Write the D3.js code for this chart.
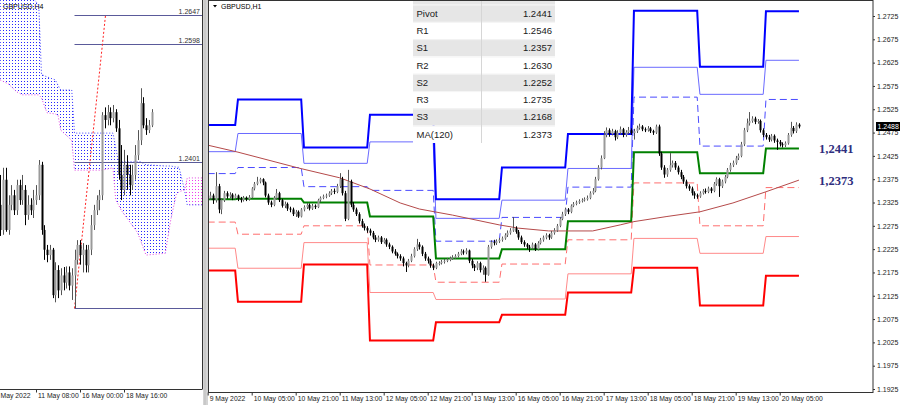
<!DOCTYPE html>
<html><head><meta charset="utf-8">
<script src="https://cdn.jsdelivr.net/npm/d3@7/dist/d3.min.js"></script>
<style>
html,body{margin:0;padding:0;background:#fff;}
svg{display:block;font-family:"Liberation Sans",Arial,sans-serif;}
</style></head><body>
<svg id="chart" width="900" height="405"></svg>
<script>
// ===== DATA (prices stored as offsets in units of 0.0001 above 1.2000) =====
// GBPUSD H1 candles, bar 0 = 9 May 13:00
const h1Open = [
332,335,340,330,360,310,330,345,338,342, 335,340,333,330,335,332,336,355,365,370,
375,368,340,325,320,335,345,330,318,322, 312,310,300,305,295,310,315,320,312,318,
315,330,335,338,340,345,350,348,360,375, 345,290,370,320,310,300,285,275,270,265,
260,250,245,250,240,245,235,230,220,215, 210,205,195,190,200,210,225,235,230,215,
205,200,190,185,195,195,198,200,202,205, 207,210,215,220,218,222,200,190,185,195,
180,185,170,230,240,238,242,245,248,255, 260,265,270,262,250,240,235,230,228,235,
225,238,245,250,255,250,260,265,275,290, 300,310,305,318,322,325,328,330,332,335,
345,350,375,400,420,470,480,472,478,465, 475,482,470,476,480,474,478,485,488,482,
480,484,478,475,488,430,400,385,395,405, 410,400,390,380,370,360,355,345,340,338,
345,350,348,355,350,365,375,360,370,380, 395,405,410,420,425,450,480,495,500,505,
498,500,480,470,465,460,468,458,455,450, 448,452,470,485,478,492];
const h1Close = [
335,340,330,360,310,330,345,338,342,335, 340,333,330,335,332,336,355,365,370,375,
368,340,325,320,335,345,330,318,322,312, 310,300,305,295,310,315,320,312,318,315,
330,335,338,340,345,350,348,360,375,345, 290,370,320,310,300,285,275,270,265,260,
250,245,250,240,245,235,230,220,215,210, 205,195,190,200,210,225,235,230,215,205,
200,190,185,195,195,198,200,202,205,207, 210,215,220,218,222,200,190,185,195,180,
185,170,230,240,238,242,245,248,255,260, 265,270,262,250,240,235,230,228,235,225,
238,245,250,255,250,260,265,275,290,300, 310,305,318,322,325,328,330,332,335,345,
350,375,400,420,470,480,472,478,465,475, 482,470,476,480,474,478,485,488,482,480,
484,478,475,488,430,400,385,395,405,410, 400,390,380,370,360,355,345,340,338,345,
350,348,355,350,365,375,360,370,380,395, 405,410,420,425,450,480,495,500,505,498,
500,480,470,465,460,468,458,455,450,448, 452,470,485,478,492,488];
const h1High = [
342,348,344,390,365,334,350,349,347,345, 344,342,337,339,338,341,358,369,380,378,
377,370,344,329,339,354,348,333,327,325, 316,314,309,308,313,319,324,323,322,321,
333,338,342,344,349,354,355,365,388,380, 350,395,374,326,314,304,290,280,274,269,
264,255,254,253,249,248,239,233,225,218, 214,209,198,204,215,229,247,240,233,219,
209,204,194,198,199,202,204,206,209,212, 214,219,225,224,227,224,204,193,199,198,
190,188,234,244,245,246,249,252,259,265, 270,294,274,266,254,244,238,234,239,238,
242,249,254,259,258,264,270,279,294,305, 314,313,321,326,329,332,334,336,340,349,
356,380,405,426,478,486,484,483,481,480, 488,485,480,487,484,483,490,494,491,486,
489,487,481,492,492,434,405,399,431,415, 414,404,395,384,374,364,359,349,344,349,
354,355,359,358,369,379,378,374,384,399, 410,415,425,430,455,485,505,519,510,509,
504,503,484,474,470,472,471,462,459,454, 456,474,498,489,497,495];
const h1Low = [
326,331,322,325,302,300,326,333,334,330, 331,328,325,327,328,329,334,351,362,366,
362,336,320,315,317,331,326,314,313,307, 304,296,294,292,293,306,311,308,309,311,
313,326,332,334,337,341,343,345,356,340, 285,287,315,305,296,280,271,265,260,254,
246,240,241,236,237,230,225,216,211,205, 200,188,176,186,197,207,221,224,210,200,
194,185,180,182,190,192,194,197,199,202, 204,207,212,213,214,195,184,178,180,175,
170,155,168,226,233,234,238,241,245,251, 256,262,258,245,236,230,225,219,224,221,
222,235,241,246,245,247,256,262,272,287, 296,300,302,315,319,322,325,327,329,332,
342,347,372,396,418,465,466,469,458,461, 471,465,466,472,470,460,474,481,478,476,
477,474,470,472,425,395,378,380,391,400, 395,385,375,365,355,350,340,333,333,335,
342,344,345,345,347,361,337,356,366,377, 391,401,406,416,422,446,476,490,496,493,
494,475,465,460,455,456,453,438,445,443, 444,449,466,473,474,484];

// Daily pivot levels
const days     = ["9 May","10 May","11 May","12 May","13 May","16 May","17 May","18 May","19 May","20 May"];
const dayStart = [0, 11, 35, 59, 83, 107, 131, 155, 179, 203];
const lastBar  = 215;
const lvR3 = [491,546,443,513,332,400,472,736,616,735];
const lvR2 = [434,473,409,455,291,330,398,615,557,630];
const lvR1 = [387,400,359,351,242,293,358,551,446,546];
const lvP  = [332,333,325,295,205,225,285,433,388,441];
const lvS1 = [283,257,275,191,154,193,245,367,275,357];
const lvS2 = [227,184,239,132,117,118,172,248,216,252];
const lvS3 = [179,112,192, 29, 68, 84,132,185,104,168];

// MA(120) sampled along the H1 bars
const maIdx = [0,11,33,48,59,70,77,89,106,113,124,140,150,155,167,179,191,203,215];
const maVal = [448,433,399,378,354,324,311,298,277,270,264,264,277,284,295,305,324,348,373];

// Table
const tblLabels = ["Pivot","R1","S1","R2","S2","R3","S3","MA(120)"];
const tblValues = ["1.2441","1.2546","1.2357","1.2630","1.2252","1.2735","1.2168","1.2373"];

// Axis labels
const mainTickIdx = [0,16,32,48,64,80,96,112,128,144,160,176,192,208];
const mainTickLab = ["9 May 2022","10 May 05:00","10 May 21:00","11 May 13:00","12 May 05:00","12 May 21:00",
  "13 May 13:00","16 May 05:00","16 May 21:00","17 May 13:00","18 May 05:00","18 May 21:00","19 May 13:00","20 May 05:00"];
const yTickVals = [1.2725,1.2675,1.2625,1.2575,1.2525,1.2475,1.2425,1.2375,1.2325,1.2275,1.2225,1.2175,1.2125,1.2075,1.2025,1.1975,1.1925];
const yTickLab  = ["1.2725","1.2675","1.2625","1.2575","1.2525","1.2475","1.2425","1.2375","1.2325","1.2275","1.2225","1.2175","1.2125","1.2075","1.2025","1.1975","1.1925"];
const lastPrice = 1.2488, lastPriceLab = "1.2488";
const notes = [{t:"1,2441", p:1.2441}, {t:"1,2373", p:1.2373}];

// GBPUSD H4 (left panel), bar 0 = 11 May 08:00, first bar index -13
const h4First = -13;
const h4Open  = [329,287,371,287,329,345,320,362,337,354,312,329,320, 337,345,396,287,254,245,254,178,220,186,211,199,216,194,211,237,262,245,254,228,254,295,320,337,345,479,471,484,474,484,457,379,354,396,379,362,379,412,437,499,462,454,462];
const h4Close = [287,371,287,329,345,320,362,337,354,312,329,320,337, 345,396,287,254,245,254,178,220,186,211,199,216,194,211,237,262,245,254,228,254,295,320,337,345,479,471,484,474,484,457,379,354,396,379,362,379,412,437,499,462,454,462,484];
const h4High  = [379,391,391,345,362,354,371,371,379,362,345,340,354, 362,404,401,295,262,262,257,233,228,223,225,226,226,223,254,270,270,265,262,262,312,329,345,354,484,492,496,492,496,489,471,429,421,412,396,396,429,454,524,509,474,471,489];
const h4Low   = [277,279,284,279,320,312,312,329,329,295,304,312,307, 329,337,279,237,233,237,173,166,173,178,186,189,186,170,156,229,229,216,216,216,245,287,312,320,337,457,462,462,467,451,371,337,345,354,345,354,371,404,429,457,446,449,459];
const h4TickIdx = [-13.6,0,16,32];
const h4TickLab = ["May 2022","11 May 08:00","16 May 00:00","18 May 16:00"];
// Ichimoku cloud key points
const cloudJ = [-13,-10,-7,-5,-2,1,2,4,7,8,9,13,14,24,28,29,30,31,37,38,40,47,49,51,52,54,55,61];
const spanA  = [680,680,680,680,680,663,547,543,538,529,521,521,449,449,449,424,401,401,401,401,396,394,394,392,392,354,329,329];
const spanB  = [538,531,518,513,513,513,508,483,481,479,454,437,387,387,391,337,329,320,282,270,245,248,304,346,351,354,374,374];
// horizontal levels (left)
const hLevels = [1.2647, 1.2598, 1.2401, 1.2156];
const hLevelLab = ["1.2647","1.2598","1.2401",""];
const hLevelFrom = 14;
const trendJ = [14, 25.3], trendP = [1.2156, 1.2647];

// ===== DRAW =====
const px = v => 1.2 + v * 0.0001;
const svg = d3.select("#chart");
const defs = svg.append("defs");
defs.append("clipPath").attr("id","clipL").append("rect").attr("x",0).attr("y",0).attr("width",202).attr("height",389);
defs.append("clipPath").attr("id","clipM").append("rect").attr("x",209).attr("y",1).attr("width",664).attr("height",391);
const mkPat = (id, col) => { const p = defs.append("pattern").attr("id",id).attr("width",3).attr("height",3).attr("patternUnits","userSpaceOnUse");
  p.append("rect").attr("x",0).attr("y",0).attr("width",1).attr("height",1).attr("fill",col); };
mkPat("dotB","#2626ff"); mkPat("dotM","#ee3cee");

const mainX = d3.scaleLinear().domain([0,208]).range([207.7, 779.7]);
const mainY = d3.scaleLinear().domain([1.1925,1.2725]).range([389,16]);
const leftX = d3.scaleLinear().domain([0,32]).range([36,124]);
const leftY = d3.scaleLinear().domain([1.2156,1.2647]).range([308.3,14.7]);

function drawCandles(g, xs, ys, O, Hh, Ll, C, first){
  O.forEach((o,k)=>{
    const i = first + k, x = Math.round(xs(i)) + 0.5;
    const bull = C[k] >= o;
    g.append("line").attr("x1",x).attr("x2",x).attr("y1",ys(px(Hh[k]))).attr("y2",ys(px(Ll[k])))
      .attr("stroke", bull ? "#555" : "#000").attr("stroke-width",1);
    const yt = ys(px(Math.max(o,C[k]))), yb = ys(px(Math.min(o,C[k])));
    g.append("rect").attr("x",x-1).attr("y",yt).attr("width",2).attr("height",Math.max(1,yb-yt))
      .attr("fill", bull ? "#9a9a9a" : "#000");
  });
}

// ---------- LEFT PANEL ----------
const gL = svg.append("g").attr("clip-path","url(#clipL)");
gL.append("text").attr("x",3).attr("y",9).attr("font-size",7).attr("fill","#000").text("GBPUSD,H4");
const cloudPts = cloudJ.map((j,k)=>({j, a:spanA[k], b:spanB[k]}));
const area = d3.area().x(d=>leftX(d.j)).y0(d=>leftY(px(d.b))).y1(d=>leftY(px(d.a)));
gL.append("path").attr("d", area(cloudPts.filter(d=>d.j<=54))).attr("fill","url(#dotB)");
gL.append("path").attr("d", area(cloudPts.filter(d=>d.j>=54))).attr("fill","url(#dotM)");
gL.append("path").attr("d", d3.line().x(d=>leftX(d.j)).y(d=>leftY(px(d.a)))(cloudPts))
  .attr("fill","none").attr("stroke","#3a3aff").attr("stroke-dasharray","1,2");
gL.append("path").attr("d", d3.line().x(d=>leftX(d.j)).y(d=>leftY(px(d.b)))(cloudPts))
  .attr("fill","none").attr("stroke","#e040e0").attr("stroke-dasharray","1,2");
hLevels.forEach((p,k)=>{
  const y = Math.round(leftY(p)) + 0.5;
  gL.append("line").attr("x1",leftX(hLevelFrom)).attr("x2",202).attr("y1",y).attr("y2",y).attr("stroke","#5a5a9a");
  if (hLevelLab[k]) gL.append("text").attr("x",200).attr("y",y-2).attr("text-anchor","end").attr("font-size",7).attr("fill","#333").text(hLevelLab[k]);
});
gL.append("line").attr("x1",leftX(trendJ[0])).attr("y1",leftY(trendP[0])).attr("x2",leftX(trendJ[1])).attr("y2",leftY(trendP[1]))
  .attr("stroke","#ff2020").attr("stroke-dasharray","2,2");
drawCandles(gL.append("g"), leftX, leftY, h4Open, h4High, h4Low, h4Close, h4First);

// left frame + axis
svg.append("line").attr("x1",202.5).attr("x2",202.5).attr("y1",0).attr("y2",389).attr("stroke","#333");
svg.append("line").attr("x1",0).attr("x2",202.5).attr("y1",389.5).attr("y2",389.5).attr("stroke","#333");
const axL = d3.axisBottom(leftX).tickValues(h4TickIdx).tickFormat((d,k)=>h4TickLab[k]).tickSize(3);
const gAxL = svg.append("g").attr("transform","translate(0,389.5)").call(axL);
gAxL.select(".domain").remove();
gAxL.selectAll(".tick line").attr("stroke","#333");
gAxL.selectAll("text").attr("text-anchor","start").attr("x",1.5).attr("y",8.5).attr("dy",null)
  .attr("font-size",6.8).attr("font-family","Liberation Sans, Arial, sans-serif").attr("fill","#222");

// separator
svg.append("rect").attr("x",203).attr("y",0).attr("width",5).attr("height",405).attr("fill","#d4d4d4");
svg.append("line").attr("x1",205).attr("x2",205).attr("y1",0).attr("y2",405).attr("stroke","#bdbdbd");

// ---------- MAIN PANEL ----------
const gM = svg.append("g").attr("clip-path","url(#clipM)");
gM.append("path").attr("d","M213,5 L217,5 L215,7.5 Z").attr("fill","#000");
gM.append("text").attr("x",221).attr("y",9).attr("font-size",7).attr("fill","#000").text("GBPUSD,H1");

function levelPts(lv){
  const pts = [];
  lv.forEach((v,d)=>{
    const s = dayStart[d], e = d < dayStart.length-1 ? dayStart[d+1]-1 : lastBar;
    pts.push([s,v],[e,v]);
  });
  return pts;
}
const lvLine = d3.line().x(p=>mainX(p[0])).y(p=>mainY(px(p[1])));
const lvStyles = [
  {lv:lvS3, c:"#ff0000", w:2, dash:null},
  {lv:lvS2, c:"#ff8a8a", w:1, dash:null},
  {lv:lvS1, c:"#ff6e6e", w:1, dash:"7,4"},
  {lv:lvR1, c:"#4a4aff", w:1, dash:"7,4"},
  {lv:lvR2, c:"#6a6aff", w:1, dash:null},
  {lv:lvR3, c:"#0000ff", w:2, dash:null},
  {lv:lvP,  c:"#008000", w:2, dash:null}
];
lvStyles.forEach(s=>{
  gM.append("path").attr("d", lvLine(levelPts(s.lv))).attr("fill","none")
    .attr("stroke", s.c).attr("stroke-width", s.w).attr("stroke-dasharray", s.dash);
});
gM.append("path").attr("d", d3.line().x((d,k)=>mainX(maIdx[k])).y(d=>mainY(px(d)))(maVal))
  .attr("fill","none").attr("stroke","#b54a4a").attr("stroke-width",1);
drawCandles(gM.append("g"), mainX, mainY, h1Open, h1High, h1Low, h1Close, 0);

// table
const rowH = 17.3, row0 = 4.6;
const gT = svg.append("g");
gT.append("rect").attr("x",413).attr("y",-13).attr("width",142).attr("height",row0+13).attr("fill","#e6e6e6");
tblLabels.forEach((lab,k)=>{
  const y = row0 + k*rowH;
  gT.append("rect").attr("x",413).attr("y",y).attr("width",142).attr("height",rowH)
    .attr("fill", k%2===0 ? "#e6e6e6" : "#ffffff");
  gT.append("line").attr("x1",413).attr("x2",555).attr("y1",y+0.5).attr("y2",y+0.5).attr("stroke","#f4f4f4");
  gT.append("text").attr("x",416.5).attr("y",y+rowH/2+3.4).attr("font-size",9.5).attr("fill","#1a1a1a").text(lab);
  gT.append("text").attr("x",552).attr("y",y+rowH/2+3.4).attr("font-size",9.5).attr("text-anchor","end").attr("fill","#1a1a1a").text(tblValues[k]);
});
gT.append("line").attr("x1",481.5).attr("x2",481.5).attr("y1",0).attr("y2",row0+8*rowH).attr("stroke","#d6d6d6");

// annotations
notes.forEach(n=>{
  svg.append("text").attr("x",819).attr("y",mainY(n.p)+4.5).attr("font-family","Liberation Serif, Times New Roman, serif")
    .attr("font-weight","bold").attr("font-size",12.5).attr("fill","#2e2e7e").text(n.t);
});

// main frame
svg.append("rect").attr("x",208.5).attr("y",0.5).attr("width",664.5).attr("height",392).attr("fill","none").attr("stroke","#333");

// main x axis
const axM = d3.axisBottom(mainX).tickValues(mainTickIdx).tickFormat((d,k)=>mainTickLab[k]).tickSize(3);
const gAxM = svg.append("g").attr("transform","translate(0,392.5)").call(axM);
gAxM.select(".domain").remove();
gAxM.selectAll(".tick line").attr("stroke","#333");
gAxM.selectAll("text").attr("text-anchor","start").attr("x",1.5).attr("y",8.5).attr("dy",null)
  .attr("font-size",6.8).attr("font-family","Liberation Sans, Arial, sans-serif").attr("fill","#222");

// y axis
const axY = d3.axisRight(mainY).tickValues(yTickVals).tickFormat((d,k)=>yTickLab[k]).tickSize(2).tickPadding(2);
const gAxY = svg.append("g").attr("transform","translate(873,0)").call(axY);
gAxY.select(".domain").remove();
gAxY.selectAll(".tick line").attr("stroke","#333");
gAxY.selectAll("text").attr("font-size",7).attr("font-family","Liberation Sans, Arial, sans-serif").attr("fill","#222");

// last price box
const yLP = mainY(lastPrice);
svg.append("rect").attr("x",876).attr("y",yLP-4.5).attr("width",24).attr("height",9).attr("fill","#000");
svg.append("text").attr("x",877.5).attr("y",yLP+2.5).attr("font-size",7).attr("fill","#fff").text(lastPriceLab);
</script>
</body></html>
